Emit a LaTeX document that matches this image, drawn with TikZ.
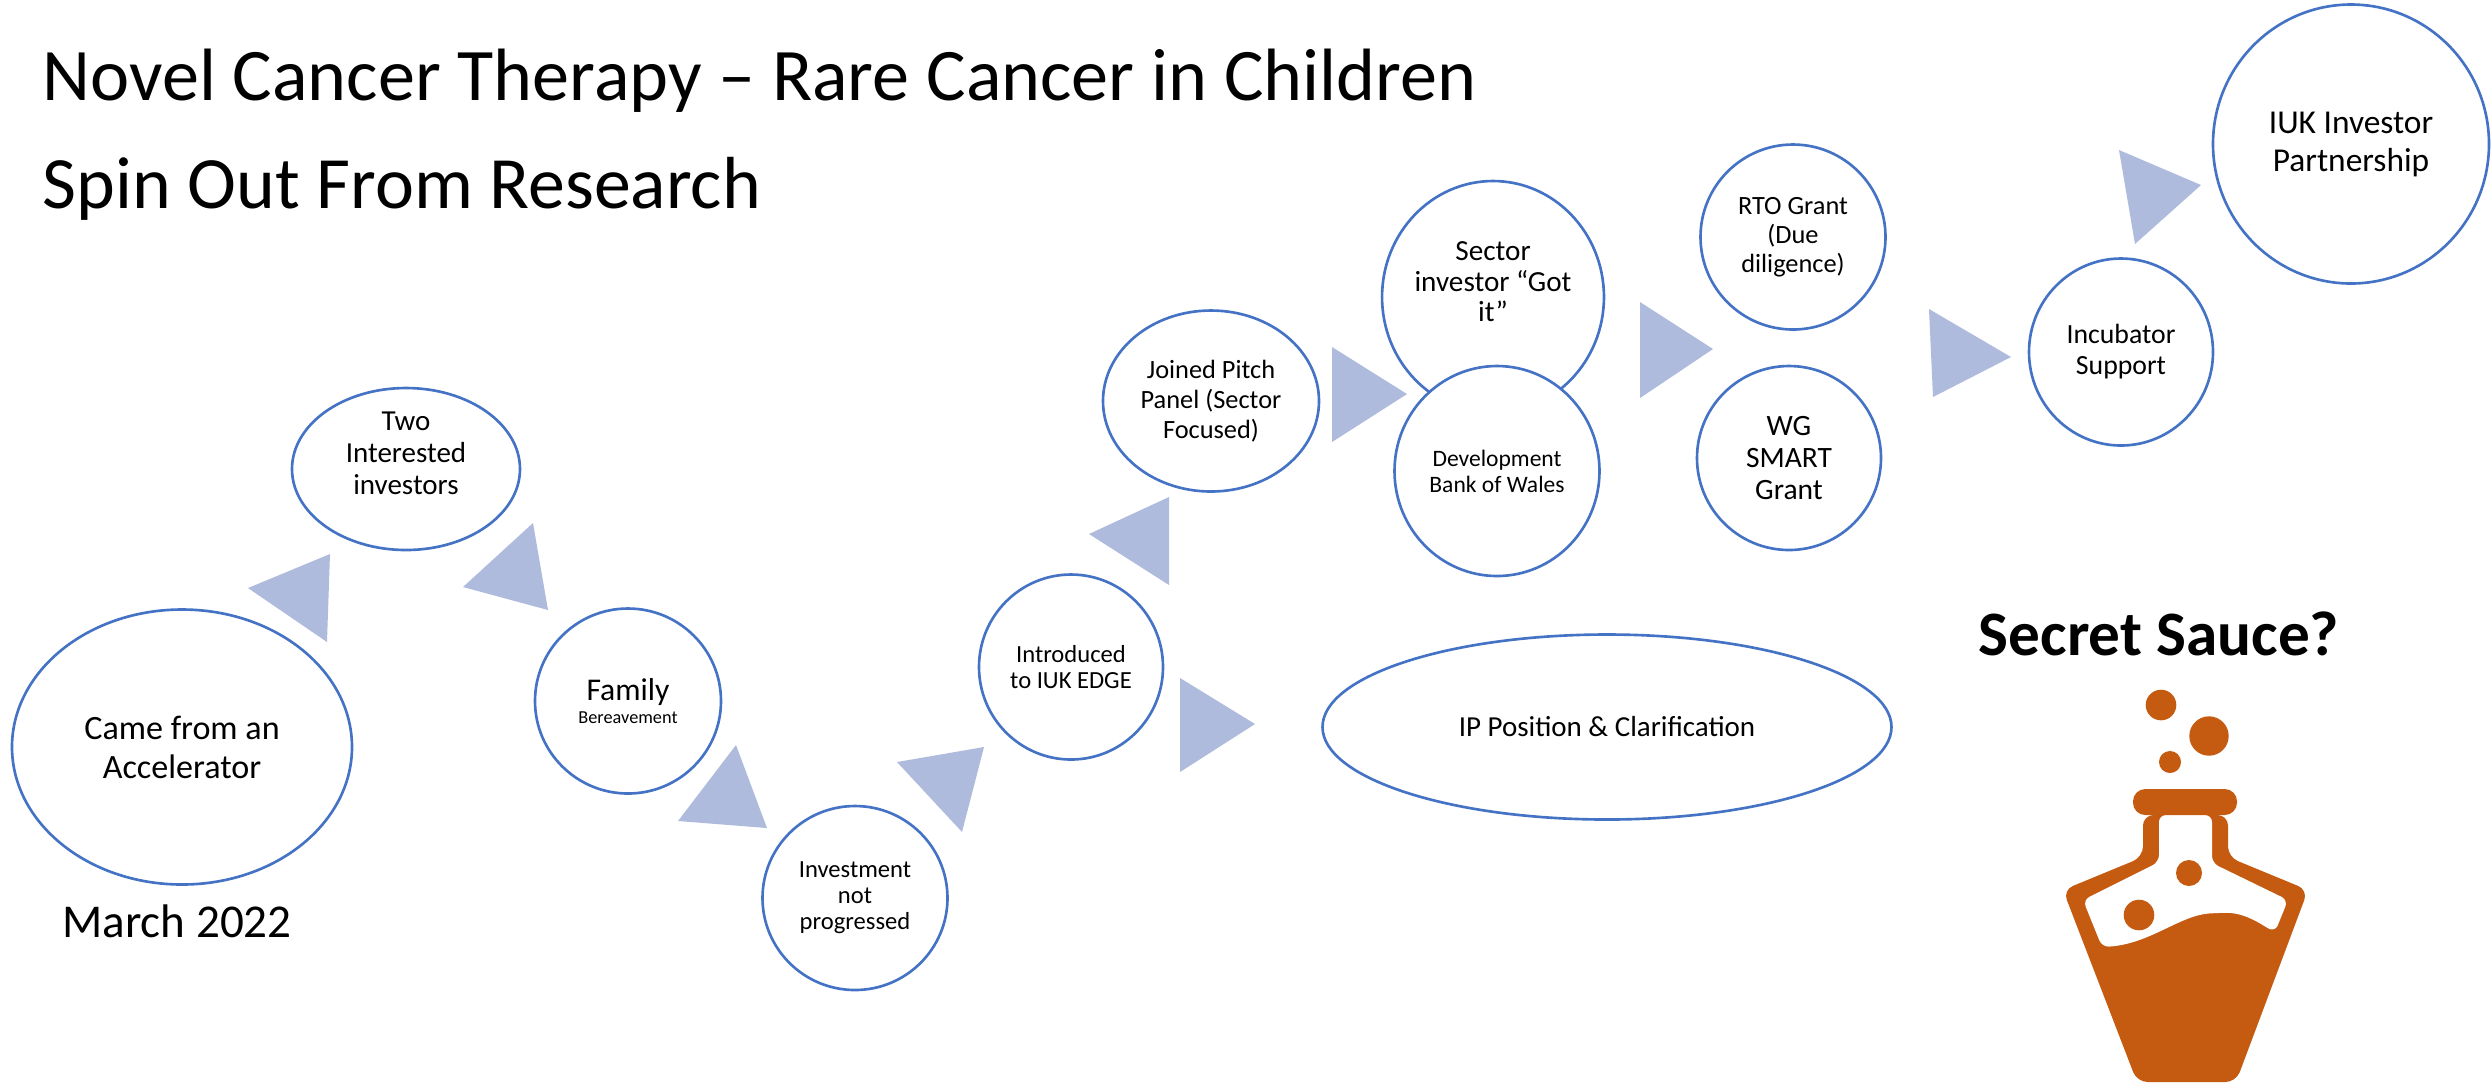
\documentclass[tikz,border=0pt]{standalone}
\usepackage{fontspec}
\setmainfont{Carlito}
\usetikzlibrary{shapes.geometric}

\definecolor{blueT}{RGB}{68,114,196}
\definecolor{chevronT}{RGB}{175,187,221}
\definecolor{sauceT}{RGB}{197,90,17}
\newcommand{\fsz}[2]{\fontsize{#1}{#2}\selectfont}
\tikzset{	stage/.style={ellipse,draw=blueT,line width=0.75pt,fill=white,
				inner sep=0pt,align=center},
			chevron/.style={fill=chevronT}
				}

\begin{document}
\begin{tikzpicture}[x=0.1mm, y=-0.1mm]
	\fill[white] (0,0) rectangle (2491,1083);
	\useasboundingbox (0,0) rectangle (2491,1083);

        % titles
	\node[anchor=base west,inner sep=0pt,font=\fsz{21.1}{25}] (title) at (42,100) {Novel Cancer Therapy – Rare Cancer in Children};
	\node[anchor=base west,inner sep=0pt,font=\fsz{21}{25}] (subtitle) at (42,208) {Spin Out From Research};

        % stages
	\node[stage,minimum width=34mm,minimum height=27.5mm,font=\fsz{9.7}{11.1}] (accel) at (182,747) {Came from an\\Accelerator};
	\node[anchor=base,inner sep=0pt,font=\fsz{13.4}{16}] (date) at (177,937) {March 2022};
	\node[stage,minimum width=22.8mm,minimum height=16.1mm,font=\fsz{8.25}{9.1}] (two) at (406,469) {Two\\Interested\\investors\\\mbox{}};
	\node[stage,minimum width=18.6mm,minimum height=18.5mm,font=\fsz{9}{6.7}] (family) at (628,701) {Family\\\fsz{5.2}{6}Bereavement};
	\node[stage,minimum width=18.5mm,minimum height=18.4mm,font=\fsz{7}{7.4}] (invest) at (855,898) {Investment\\not\\progressed};
	\node[stage,minimum width=18.4mm,minimum height=18.5mm,font=\fsz{7}{7.4}] (intro) at (1071,667) {Introduced\\to IUK EDGE};
	\node[stage,minimum width=21.6mm,minimum height=18.1mm,font=\fsz{7.5}{8.5}] (pitch) at (1211,401) {Joined Pitch\\Panel (Sector\\Focused)};
	\node[stage,minimum width=22mm,minimum height=23.2mm,font=\fsz{8.3}{8.8}] (sector) at (1493,297) {Sector\\investor “Got\\it”\\\mbox{}};
	\node[stage,minimum width=20.5mm,minimum height=21mm,font=\fsz{6.7}{7.4}] (devbank) at (1497,471) {Development\\Bank of Wales};
	\node[stage,minimum width=18.5mm,minimum height=18.5mm,font=\fsz{7.5}{8.2}] (rto) at (1793,237) {RTO Grant\\(Due\\diligence)};
	\node[stage,minimum width=18.4mm,minimum height=18.4mm,font=\fsz{8.4}{9.1}] (smart) at (1789,458) {WG\\SMART\\Grant};
	\node[stage,minimum width=18.4mm,minimum height=18.7mm,font=\fsz{7.9}{8.8}] (incub) at (2121,352) {Incubator\\Support};
	\node[stage,minimum width=27.6mm,minimum height=27.9mm,font=\fsz{9.5}{10.8}] (iuk) at (2351,144) {IUK Investor\\Partnership};
	\node[stage,minimum width=56.9mm,minimum height=18.5mm,font=\fsz{8.25}{10}] (ip) at (1607,727) {IP Position \& Clarification};

        % chevrons between the stages
	\foreach \ax/\ay/\bx/\by/\cx/\cy in {248/588/330/554/327/642, 533/523/463/587/548/610,
		736/745/678/821/767/828, 897/762/984/747/962/832, 1089/534/1169/497/1169/585,
		1180/678/1255/724/1180/772, 1332/347/1407/394/1332/442, 1640/302/1713/349/1640/398,
		1929/309/2011/357/1933/397, 2119/150/2201/185/2135/244}
		\fill[chevron] (\ax,\ay) -- (\bx,\by) -- (\cx,\cy) -- cycle;

        % secret sauce
	\node[anchor=base,inner sep=0pt,font=\fsz{18}{22}\bfseries] (sauce) at (2159,655) {Secret Sauce?};
	\fill[sauceT,rounded corners=3pt] (2143,815) -- (2143,857) -- (2063,890) -- (2137,1082)
		-- (2236,1082) -- (2308,890) -- (2228,857) -- (2228,815) -- cycle;
	\fill[white,rounded corners=2pt] (2159,815) -- (2159,862) -- (2083,900) -- (2102,947)
		.. controls (2150,944) and (2180,915) .. (2217,913)
		.. controls (2245,912) and (2262,925) .. (2275,932)
		-- (2288,900) -- (2212,863) -- (2212,815) -- cycle;
	\fill[sauceT,rounded corners=3.5pt] (2133,789) rectangle (2237,815);
	\fill[sauceT] (2161,705) circle[radius=1.53mm] (2209,736) circle[radius=1.97mm]
		(2170,762) circle[radius=1.1mm] (2189,873) circle[radius=1.3mm]
		(2139,915) circle[radius=1.53mm];
\end{tikzpicture}
\end{document}
